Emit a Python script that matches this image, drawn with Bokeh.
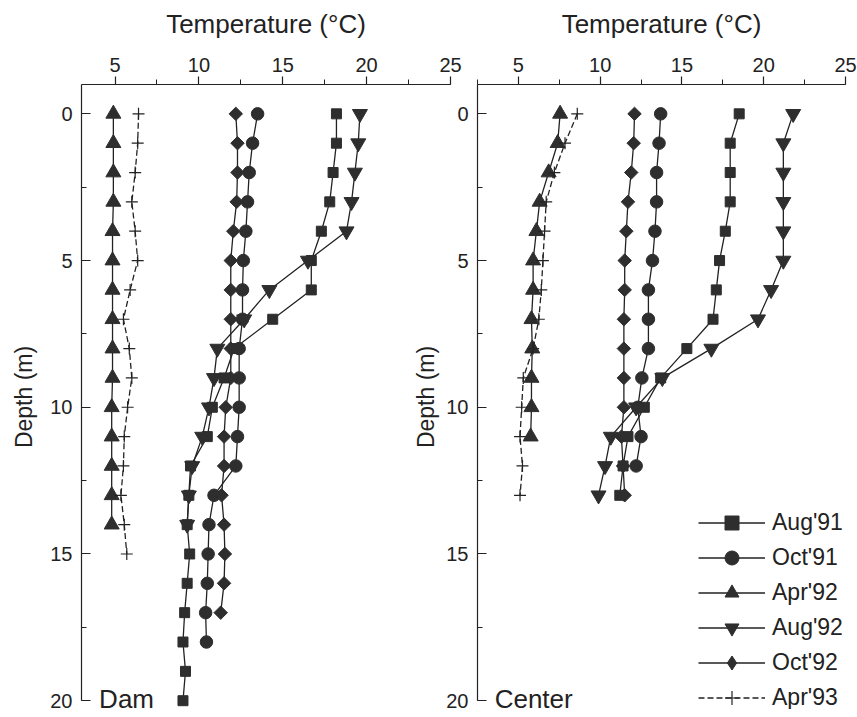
import math
from bokeh.plotting import figure
from bokeh.models import Range1d, SingleIntervalTicker, Label, Legend, LegendItem, ColumnDataSource
from bokeh.layouts import row
from bokeh.embed import file_html
from bokeh.resources import INLINE

# ---------------- data ----------------
depths = list(range(21))  # m
series_names = ["Aug'91", "Oct'91", "Apr'92", "Aug'92", "Oct'92", "Apr'93"]

# Dam station (temperature, deg C, from depth 0 downward, 1 m steps)
dam_aug91 = [18.2, 18.2, 18.0, 17.8, 17.3, 16.7, 16.7, 14.4, 12.1, 11.5, 10.8,
             10.5, 9.5, 9.4, 9.3, 9.45, 9.3, 9.15, 9.05, 9.2, 9.05]
dam_oct91 = [13.5, 13.2, 13.0, 12.9, 12.8, 12.65, 12.6, 12.6, 12.4, 12.4, 12.4,
             12.3, 12.2, 10.9, 10.6, 10.55, 10.5, 10.4, 10.45]
dam_apr92 = [4.9, 4.9, 4.9, 4.9, 4.85, 4.85, 4.85, 4.85, 4.85, 4.85, 4.8,
             4.8, 4.8, 4.8, 4.8]
dam_aug92 = [19.6, 19.5, 19.3, 19.1, 18.8, 16.5, 14.2, 12.7, 11.1, 10.9, 10.6,
             10.2, 9.6, 9.4, 9.3]
dam_oct92 = [12.2, 12.3, 12.3, 12.25, 12.05, 11.9, 11.9, 11.9, 11.9, 11.9, 11.6,
             11.5, 11.5, 11.35, 11.5, 11.55, 11.5, 11.3]
dam_apr93 = [6.4, 6.35, 6.2, 6.0, 6.2, 6.35, 5.9, 5.5, 5.85, 6.0, 5.75,
             5.55, 5.5, 5.35, 5.55, 5.7]

# Center station
ctr_aug91 = [18.5, 17.95, 17.95, 17.95, 17.65, 17.3, 17.1, 16.9, 15.3, 13.7, 12.7,
             11.7, 11.4, 11.2]
ctr_oct91 = [13.7, 13.6, 13.45, 13.45, 13.35, 13.2, 12.95, 12.95, 12.95, 12.55, 12.3,
             12.5, 12.2]
ctr_apr92 = [7.55, 7.4, 6.85, 6.3, 6.1, 5.9, 5.9, 5.8, 5.85, 5.8, 5.8, 5.75]
ctr_aug92 = [21.8, 21.2, 21.2, 21.2, 21.2, 21.2, 20.45, 19.65, 16.8, 13.8, 12.2,
             10.65, 10.3, 9.9]
ctr_oct92 = [12.1, 12.05, 11.9, 11.7, 11.6, 11.5, 11.5, 11.45, 11.45, 11.45, 11.45,
             11.3, 11.4, 11.5]
ctr_apr93 = [8.6, 7.85, 7.2, 6.7, 6.6, 6.5, 6.4, 6.25, 5.9, 5.3, 5.2,
             5.1, 5.25, 5.1]

dam_series = [dam_aug91, dam_oct91, dam_apr92, dam_aug92, dam_oct92, dam_apr93]
ctr_series = [ctr_aug91, ctr_oct91, ctr_apr92, ctr_aug92, ctr_oct92, ctr_apr93]

# ---------------- styles ----------------
FONT = "Liberation Sans"
INK = "#222222"
MARK = "#2e2e2e"
marker_styles = [
    dict(marker="square", size=10, angle=0.0, legend_marker="square", legend_size=9),
    dict(marker="circle", size=12.5, angle=0.0, legend_marker="circle", legend_size=11),
    dict(marker="triangle", size=15, angle=0.0, legend_marker="triangle", legend_size=13),
    dict(marker="inverted_triangle", size=15, angle=0.0, legend_marker="inverted_triangle", legend_size=13),
    dict(marker="square", size=9.5, angle=math.pi / 4, legend_marker="diamond", legend_size=15),
    dict(marker="cross", size=12, angle=0.0, legend_marker="cross", legend_size=10),
]
dashes = ["solid", "solid", "solid", "solid", "solid", "6 3"]


def make_panel(series, x_start, left_border, frame_w, right_border, ylab_standoff, name):
    p = figure(frame_width=frame_w, frame_height=625,
               x_range=Range1d(x_start, 25), y_range=Range1d(20.3, -1),
               x_axis_location="above", output_backend="svg", toolbar_location=None,
               min_border_left=left_border, min_border_right=right_border,
               min_border_top=84, min_border_bottom=8)
    p.grid.visible = False
    p.outline_line_color = None

    xa = p.xaxis[0]
    xa.ticker = SingleIntervalTicker(interval=5, num_minor_ticks=2)
    xa.bounds = (x_start, 25)
    xa.axis_label = "Temperature (°C)"
    xa.major_tick_out = 8
    xa.major_tick_in = 0
    xa.minor_tick_out = 5
    xa.minor_tick_in = 0
    xa.major_label_standoff = 5
    xa.axis_label_standoff = 16

    ya = p.yaxis[0]
    ya.ticker = SingleIntervalTicker(interval=5, num_minor_ticks=2)
    ya.bounds = (-1, 20)
    ya.axis_label = "Depth (m)"
    ya.major_tick_out = 0
    ya.major_tick_in = 9
    ya.minor_tick_out = 0
    ya.minor_tick_in = 5
    ya.major_label_standoff = 9
    ya.axis_label_standoff = ylab_standoff

    for ax in (xa, ya):
        ax.axis_line_color = INK
        ax.axis_line_width = 1.2
        ax.major_tick_line_color = INK
        ax.minor_tick_line_color = INK
        ax.major_tick_line_width = 1.2
        ax.major_label_text_font = FONT
        ax.major_label_text_font_size = "20px"
        ax.major_label_text_color = INK
        ax.axis_label_text_font = FONT
        ax.axis_label_text_font_style = "normal"
        ax.axis_label_text_color = INK
    xa.axis_label_text_font_size = "26px"
    ya.axis_label_text_font_size = "23px"

    items = []
    for i, vals in enumerate(series):
        src = ColumnDataSource(dict(t=vals, d=depths[:len(vals)]))
        ln = p.line("t", "d", source=src, line_color=INK, line_width=1.3,
                    line_dash=dashes[i])
        st = marker_styles[i]
        if st["marker"] == "cross":
            p.scatter("t", "d", source=src, marker="cross", size=st["size"],
                      line_color=INK, line_width=1.2)
            lg = p.scatter("t", "d", source=src, marker="cross", size=st["legend_size"],
                           line_color=INK, line_width=1.2, visible=False)
        else:
            p.scatter("t", "d", source=src, marker=st["marker"], size=st["size"],
                      angle=st["angle"], fill_color=MARK, line_color=MARK)
            lg = p.scatter("t", "d", source=src, marker=st["legend_marker"],
                           size=st["legend_size"], fill_color=MARK, line_color=MARK,
                           visible=False)
        items.append(LegendItem(label=series_names[i], renderers=[ln, lg]))

    p.add_layout(Label(x=x_start + 1.05, y=19.93, text=name, text_font=FONT,
                       text_font_size="26px", text_color=INK,
                       text_baseline="middle"))
    return p, items


p1, _ = make_panel(dam_series, 3, 81, 369, 12, 10, "Dam")
p2, items = make_panel(ctr_series, 2.5, 65, 368, 12, 4, "Center")
p2.border_fill_color = None
p2.background_fill_color = None
p2.margin = (0, 0, 0, -52)

legend = Legend(items=items, location=(221, -6), orientation="vertical",
                glyph_width=67, glyph_height=35, label_height=35, spacing=0,
                padding=0, margin=0, label_standoff=7,
                label_text_font=FONT, label_text_font_size="23px",
                label_text_color=INK, border_line_color=None,
                background_fill_alpha=0)
p2.add_layout(legend)

layout = row(p1, p2)
open("out.html", "w").write(file_html(layout, INLINE))
